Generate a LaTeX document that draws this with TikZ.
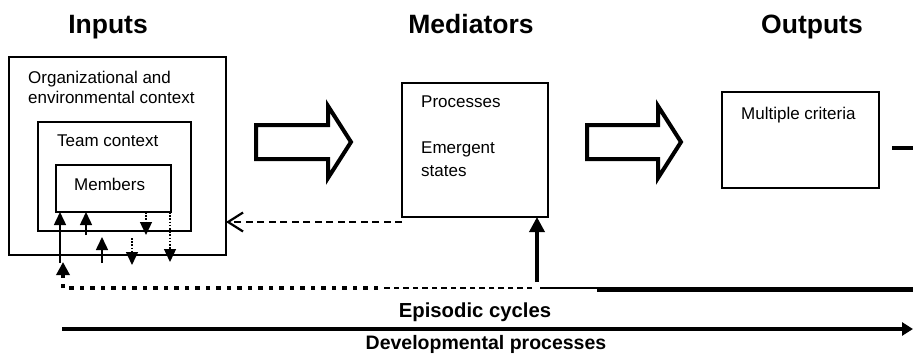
\documentclass[tikz,border=0pt]{standalone}
\usepackage{fontspec}
\setmainfont{Liberation Sans}
\usetikzlibrary{arrows.meta}
\tikzset{
  box/.style={draw, line width=1.6pt, inner sep=0pt, outer sep=0pt, anchor=north west},
  txt/.style={inner sep=0pt, anchor=base west, font=\fontsize{17}{20}\selectfont},
  head/.style={inner sep=0pt, anchor=base, font=\fontsize{26.5}{30}\selectfont\bfseries},
  blab/.style={inner sep=0pt, anchor=base, font=\fontsize{19.5}{22}\selectfont\bfseries},
  uparr/.style={line width=1.5pt, -{Triangle[length=13pt,width=12pt]}},
  dotarr/.style={line width=1.3pt, dash pattern=on 1.6pt off 1.6pt, -{Triangle[length=13pt,width=12pt]}},
  blockarrow/.style={draw, line width=4pt, miter limit=10},
  fbarrow/.style={line width=2.5pt, dash pattern=on 7pt off 4.5pt, -{Straight Barb[length=15pt,width=19pt,line width=2.2pt]}},
}
\begin{document}
\begin{tikzpicture}[x=1pt,y=-1pt]
\useasboundingbox (0,0) rectangle (913,357);
% headings
\node[head] (hin) at (108,33) {Inputs};
\node[head] (hmed) at (471,33) {Mediators};
\node[head] (hout) at (812,33) {Outputs};
% boxes
\node[box, minimum width=217pt, minimum height=198pt] (org) at (9,57) {};
\node[box, minimum width=153pt, minimum height=109pt] (team) at (38,122) {};
\node[box, minimum width=115pt, minimum height=47pt] (mem) at (56,165) {};
\node[box, minimum width=146pt, minimum height=134pt] (med) at (402,83) {};
\node[box, minimum width=157pt, minimum height=96pt] (out) at (722,92) {};
% texts
\node[txt] (t1) at (28,83) {Organizational and};
\node[txt] (t2) at (28,103) {environmental context};
\node[txt] (t3) at (57,146) {Team context};
\node[txt] (t4) at (74,190) {Members};
\node[txt] (t5) at (421,107) {Processes};
\node[txt] (t6) at (421,153) {Emergent};
\node[txt] (t7) at (421,176) {states};
\node[txt] (t8) at (741,119) {Multiple criteria};
% block arrows
\draw[blockarrow] (256,125) -- (328,125) -- (328,106) -- (351,142) -- (328,178) -- (328,159) -- (256,159) -- cycle;
\draw[blockarrow] (587,125) -- (658,125) -- (658,106) -- (681,142) -- (658,178) -- (658,159) -- (587,159) -- cycle;
% feedback dashed arrow
\coordinate (fb) at ([yshift=-5pt]med.south west);
\draw[fbarrow] (fb) -- (fb -| org.east);
% inner arrows
\draw[uparr] (60,263) -- (60,0 |- mem.south);
\draw[uparr] (86,235) -- (86,0 |- mem.south);
\draw[uparr] (102,263) -- (102,237);
\draw[dotarr] (146,0 |- mem.south) -- (146,235);
\draw[dotarr] (132,238) -- (132,265);
\draw[dotarr] (170,0 |- mem.south) -- (170,262);
% episodic cycle line
\coordinate (ep) at (537,288);
\draw[line width=3.5pt, -{Triangle[length=15pt,width=15pt]}] (537,282) -- (537,0 |- med.south);
\draw[line width=2.7pt, dash pattern=on 5.5pt off 4pt] (532,288) -- (381,288);
\draw[line width=4.5pt, dash pattern=on 4.5pt off 6pt, -{Triangle[length=13pt,width=13pt]}] (378,288) -- (63,288) -- (63,262);
\draw[line width=2.5pt] (540,288) -- (597,288);
\draw[line width=4.5pt] (597,289.5) -- (913,289.5);
% outputs continuation
\draw[line width=3.5pt] (892,148) -- (913,148);
% developmental arrow
\draw[line width=4pt, -{Triangle[length=11pt,width=13pt]}] (62,329) -- (913,329);
% bottom labels
\node[blab, font=\fontsize{20.3}{22}\selectfont\bfseries] (lep) at (475,317) {Episodic cycles};
\node[blab] (ldev) at (486,349) {Developmental processes};
\end{tikzpicture}
\end{document}
